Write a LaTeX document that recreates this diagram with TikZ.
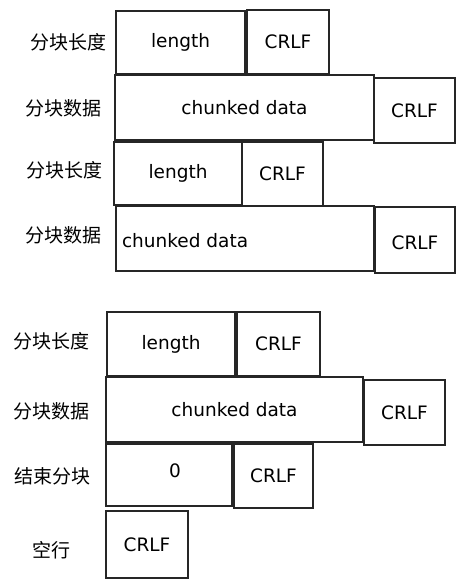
\documentclass[tikz,border=0pt]{standalone}
\usepackage{fontspec}
\setmainfont{DejaVu Sans}
\newfontfamily\cjk{Noto Sans CJK SC}
\begin{document}
\begin{tikzpicture}[x=1pt,y=-1pt,
  box/.style={draw=black!85, line width=1.1pt, inner sep=0pt, outer sep=0pt, font=\fontsize{18.5}{22}\selectfont},
  lab/.style={font=\cjk\fontsize{19}{22}\selectfont, inner sep=0pt}]
\useasboundingbox (0,0) rectangle (464,586);
% block 1
\node[box, minimum width=129pt, minimum height=63pt] (l1) at (180.5,42.5) {length};
\node[box, minimum width=82pt, minimum height=64pt] (c1) at (288,42) {CRLF};
\node[box, minimum width=259pt, minimum height=65pt] (d2) at (244.5,107.5) {chunked data};
\node[box, minimum width=81pt, minimum height=65pt] (c2) at (414.5,110.5) {CRLF};
\node[box, minimum width=128pt, minimum height=63pt] (l3) at (178,173.5) {length};
\node[box, minimum width=81pt, minimum height=64pt] (c3) at (282.5,174) {CRLF};
\node[box, minimum width=258pt, minimum height=65pt] (d4) at (245,238.5) {};
\node[box, draw=none, anchor=west] (t4) at (122,241) {chunked data};
\node[box, minimum width=80pt, minimum height=66pt] (c4) at (415,240) {};
\node[box, draw=none] (t4c) at (415,243) {CRLF};
% block 2
\node[box, minimum width=128pt, minimum height=64pt] (l5) at (171,344) {length};
\node[box, minimum width=83pt, minimum height=64pt] (c5) at (278.5,344) {CRLF};
\node[box, minimum width=257pt, minimum height=65pt] (d6) at (234.5,409.5) {chunked data};
\node[box, minimum width=81pt, minimum height=65pt] (c6) at (404.5,412.5) {CRLF};
\node[box, minimum width=126pt, minimum height=62pt] (z7) at (169,475) {};
\node[box, draw=none] (t7) at (175,471) {0};
\node[box, minimum width=79pt, minimum height=64pt] (c7) at (273.5,476) {CRLF};
\node[box, minimum width=82pt, minimum height=67pt] (c8) at (147,544.5) {CRLF};
% labels
\node[lab] (a1) at (68,42) {分块长度};
\node[lab] (a2) at (63,108) {分块数据};
\node[lab] (a3) at (64,170) {分块长度};
\node[lab] (a4) at (63,235) {分块数据};
\node[lab] (a5) at (51,341) {分块长度};
\node[lab] (a6) at (51,411) {分块数据};
\node[lab] (a7) at (52,476) {结束分块};
\node[lab] (a8) at (51,550) {空行};
\end{tikzpicture}
\end{document}
